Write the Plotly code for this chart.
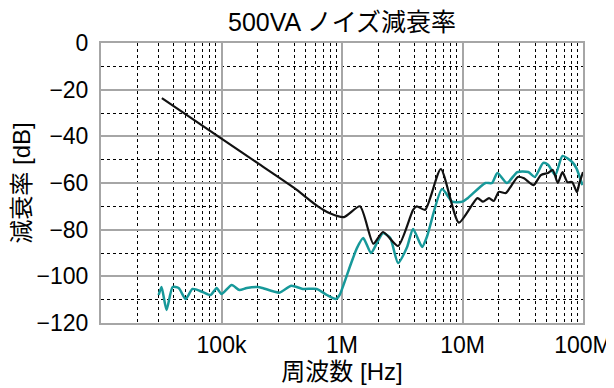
import plotly.graph_objects as go

# Black trace
black_f = [32.0e3, 100e3, 200e3, 398e3, 631e3, 794e3, 1.04e6, 1.41e6, 1.82e6, 2.19e6,
           2.92e6, 3.89e6, 4.17e6, 4.9e6, 6.61e6, 9.33e6, 13.3e6, 14.8e6, 16.6e6, 18.2e6,
           20e6, 22.9e6, 25.1e6, 28.8e6, 32.4e6, 38.9e6, 44.7e6, 51.3e6, 56.2e6, 61.7e6,
           67.6e6, 74.1e6, 81.3e6, 89.1e6, 93.3e6, 100e6]
black_db = [-23.6, -41, -51.5, -62, -70, -73, -74.6, -70, -86, -81,
            -87, -71.5, -70, -71.5, -54, -77, -66.5, -68, -66.5, -67.7,
            -63.8, -64.3, -61.6, -57.4, -58, -60.9, -56.6, -55.7, -54.4, -60,
            -55.3, -59.6, -59.6, -63.9, -60, -55.3]

teal_f = [30.1e3, 31.8e3, 35.0e3, 39.3e3, 44.1e3, 50.4e3, 57.5e3, 69.8e3, 81.3e3, 91.2e3,
          100e3, 121.6e3, 141e3, 162e3, 200e3, 219e3, 302e3, 380e3, 473e3, 617e3,
          750e3, 891e3, 955e3, 1.16e6, 1.33e6, 1.50e6, 1.74e6, 1.95e6, 2.19e6, 2.51e6,
          2.92e6, 3.47e6, 3.89e6, 4.62e6, 5.07e6, 6.76e6, 8.22e6, 10e6, 11.1e6, 15.5e6,
          17.6e6, 19.5e6, 23.4e6, 28.5e6, 35.1e6, 39.8e6, 46.8e6, 51.3e6, 58.9e6, 67.6e6,
          81.3e6, 88.1e6, 98.9e6]
teal_db = [-108, -104.6, -114.4, -104.6, -105, -109.7, -105.4, -106.7, -108, -105,
           -107.6, -103.7, -105.9, -105, -104.6, -105, -107, -104, -105.4, -105.4,
           -108, -109.7, -108, -96, -87.9, -83.6, -90, -85.7, -81.4, -83.5,
           -94.3, -87.4, -79.7, -87.4, -83, -62.6, -68, -68, -66.4, -60,
           -60, -55.7, -60, -55.3, -55.3, -57.4, -51.4, -52.2, -56.6, -48.4,
           -51, -53.6, -60.9]

x_tickvals = [1e5, 1e6, 1e7, 1e8]
x_ticktext = ["100k", "1M", "10M", "100M"]
y_tickvals = [0, -20, -40, -60, -80, -100, -120]

FONT = "Liberation Sans, Arial, Noto Sans CJK JP, sans-serif"
W, H = 606, 380  # page body adds an 8px offset

fig = go.Figure()
fig.add_trace(go.Scatter(x=teal_f, y=teal_db, mode="lines",
                         line=dict(color="#17999a", width=2.5, shape="spline", smoothing=0.6),
                         showlegend=False))
fig.add_trace(go.Scatter(x=black_f, y=black_db, mode="lines",
                         line=dict(color="#111111", width=2.2, shape="spline", smoothing=0.6),
                         showlegend=False))

fig.update_layout(
    width=W, height=H,
    margin=dict(l=93, r=31, t=35, b=65),
    paper_bgcolor="white", plot_bgcolor="white",
    font=dict(family=FONT, size=23, color="black"),
    title=dict(text="500VA ノイズ減衰率", x=0.5, xref="paper", xanchor="center",
               y=1 - 14 / H, yref="container", yanchor="middle", font=dict(size=25, family=FONT)),
)
fig.update_xaxes(
    type="log", range=[4, 8], automargin=False,
    tickmode="array", tickvals=x_tickvals, ticktext=x_ticktext,
    showgrid=True, gridcolor="#a6a6a6", gridwidth=2,
    showline=True, mirror=True, linecolor="#a6a6a6", linewidth=2,
    ticks="", zeroline=False, ticklabelstandoff=0,
    minor=dict(dtick="D1", showgrid=True, griddash="dot", gridcolor="black", gridwidth=1, ticks=""),
    title=dict(text="周波数 [Hz]", font=dict(size=24), standoff=2),
    tickfont=dict(size=23),
)
fig.update_yaxes(
    range=[-120, 0], tickmode="array", tickvals=y_tickvals, automargin=False,
    showgrid=True, gridcolor="#a6a6a6", gridwidth=2,
    showline=True, mirror=True, linecolor="#a6a6a6", linewidth=2,
    ticks="", zeroline=False, ticklabelstandoff=6,
    minor=dict(dtick=10, showgrid=True, griddash="dot", gridcolor="black", gridwidth=1, ticks=""),
    title=dict(text="減衰率 [dB]", font=dict(size=24), standoff=4),
    tickfont=dict(size=23),
)

fig.write_html("out.html")
